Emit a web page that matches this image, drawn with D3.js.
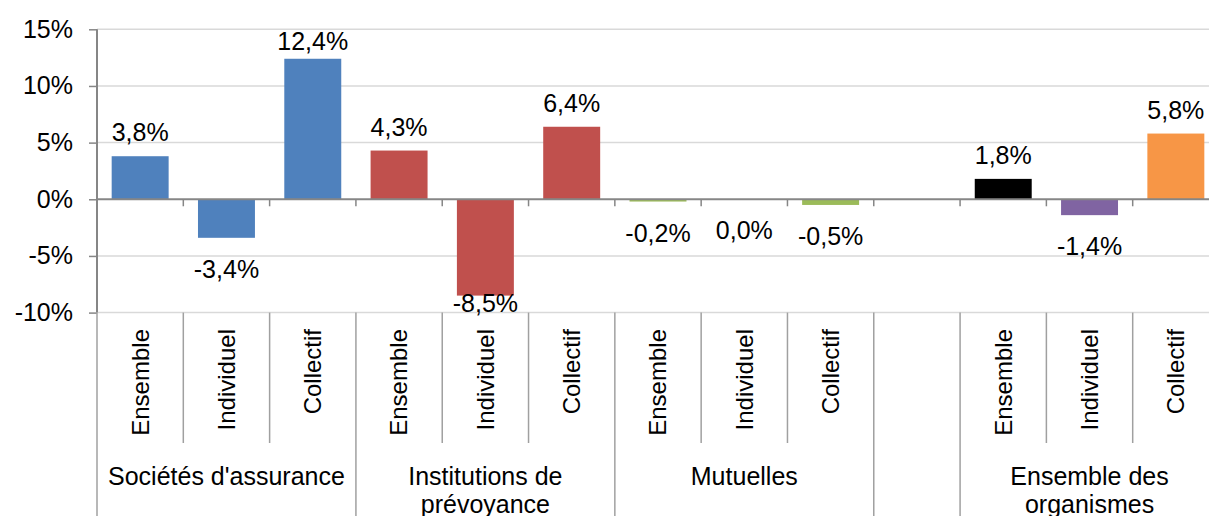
<!DOCTYPE html>
<html>
<head>
<meta charset="utf-8">
<script src="https://cdn.jsdelivr.net/npm/d3@7"></script>
<style>
body{margin:0;background:#fff;}
#chart{width:1209px;height:516px;overflow:hidden;}
text{font-family:"Liberation Sans",Arial,sans-serif;fill:#000;}
</style>
</head>
<body>
<div id="chart"></div>
<script>
// slots along the category axis
var subLabels=["Ensemble","Individuel","Collectif","Ensemble","Individuel","Collectif","Ensemble","Individuel","Collectif","","Ensemble","Individuel","Collectif"];
var values=[3.8,-3.4,12.4,4.3,-8.5,6.4,-0.2,0.0,-0.5,null,1.8,-1.4,5.8];
var barColors=["#4F81BD","#4F81BD","#4F81BD","#C0504D","#C0504D","#C0504D","#9BBB59","#9BBB59","#9BBB59","#fff","#000000","#8064A2","#F79646"];
// groups : name lines, first slot, number of slots
var groupNames=[["Sociétés d'assurance"],["Institutions de","prévoyance"],["Mutuelles"],[],["Ensemble des","organismes"]];
var groupStart=[0,3,6,9,10];
var groupSize=[3,3,3,1,3];
var yTicks=[-10,-5,0,5,10,15];

var W=1209,H=516;
var plotLeft=97,plotRight=1219,plotTop=29.3,plotBottom=312.6;

var loc=d3.formatLocale({decimal:",",thousands:" ",grouping:[3],currency:["","€"],minus:"-"});
var fmtVal=loc.format(".1f");
var fmtTick=loc.format("d");

var x=d3.scaleBand()
  .domain(d3.range(subLabels.length))
  .range([plotLeft,plotRight])
  .paddingInner(0.34)
  .paddingOuter(0.17);
var step=x.step();

var y=d3.scaleLinear()
  .domain([-10,15])
  .range([plotBottom,plotTop]);

var svg=d3.select("#chart").append("svg")
  .attr("width",W)
  .attr("height",H);

//gridlines
svg.append("g")
  .selectAll("line")
  .data(yTicks.filter(function(d){return d!=0;}))
  .enter().append("line")
  .attr("x1",plotLeft).attr("x2",W)
  .attr("y1",function(d){return y(d);})
  .attr("y2",function(d){return y(d);})
  .attr("stroke","#D9D9D9")
  .attr("stroke-width",1.5);

//y axis
var yAxis=svg.append("g")
  .attr("transform","translate("+plotLeft+",0)")
  .call(d3.axisLeft(y).tickValues(yTicks).tickSize(8).tickPadding(16).tickFormat(function(d){return fmtTick(d)+"%";}));
yAxis.select(".domain").attr("stroke","#868686").attr("stroke-width",2).attr("d","M0,"+plotTop+"V"+plotBottom);
yAxis.selectAll(".tick line").attr("stroke","#868686").attr("stroke-width",1.5);
yAxis.selectAll(".tick text")
  .style("font-family","'Liberation Sans',Arial,sans-serif")
  .style("font-size","25px")
  .attr("fill","#000");

//bars
var bars=d3.range(values.length).filter(function(i){return values[i]!==null;});
svg.append("g")
  .selectAll("rect")
  .data(bars)
  .enter().append("rect")
  .attr("x",function(i){return x(i);})
  .attr("width",x.bandwidth())
  .attr("y",function(i){return y(Math.max(0,values[i]));})
  .attr("height",function(i){return Math.abs(y(values[i])-y(0));})
  .attr("fill",function(i){return barColors[i];});

//zero line + small ticks
var boundaries=d3.range(subLabels.length+1).map(function(k){return plotLeft+k*step;});
svg.append("line")
  .attr("x1",plotLeft).attr("x2",W)
  .attr("y1",y(0)).attr("y2",y(0))
  .attr("stroke","#868686")
  .attr("stroke-width",2);
svg.append("g")
  .selectAll("line")
  .data(boundaries.slice(1))
  .enter().append("line")
  .attr("x1",function(d){return d;}).attr("x2",function(d){return d;})
  .attr("y1",y(0)).attr("y2",y(0)+7)
  .attr("stroke","#868686")
  .attr("stroke-width",1.5);

//data labels
svg.append("g")
  .selectAll("text")
  .data(bars)
  .enter().append("text")
  .attr("x",function(i){return x(i)+x.bandwidth()/2;})
  .attr("y",function(i){
    var v=values[i];
    if(v>0) return Math.max(y(v)-15,50);
    return Math.min(y(v)+40,312);
  })
  .attr("text-anchor","middle")
  .style("font-size","25px")
  .text(function(i){return fmtVal(values[i])+"%";});

//category separators
var groupEdges=[];
groupStart.forEach(function(s){groupEdges.push(s);});
groupEdges.push(subLabels.length);
svg.append("g")
  .selectAll("line")
  .data(d3.range(subLabels.length+1))
  .enter().append("line")
  .attr("x1",function(k){return boundaries[k];})
  .attr("x2",function(k){return boundaries[k];})
  .attr("y1",plotBottom)
  .attr("y2",function(k){return groupEdges.indexOf(k)>=0?H:443;})
  .attr("stroke","#A0A0A0")
  .attr("stroke-width",1.5);

//rotated sub labels
svg.append("g")
  .selectAll("text")
  .data(d3.range(subLabels.length))
  .enter().append("text")
  .attr("transform",function(i){return "translate("+(x(i)+x.bandwidth()/2)+",329) rotate(-90)";})
  .attr("text-anchor","end")
  .attr("dy","0.35em")
  .style("font-size","24px")
  .text(function(i){return subLabels[i];});

//group labels
var g=svg.append("g");
groupNames.forEach(function(lines,gi){
  var cx=plotLeft+(groupStart[gi]+groupSize[gi]/2)*step;
  lines.forEach(function(t,li){
    g.append("text")
      .attr("x",cx)
      .attr("y",485+li*28)
      .attr("text-anchor","middle")
      .style("font-size","25px")
      .text(t);
  });
});
</script>
</body>
</html>
